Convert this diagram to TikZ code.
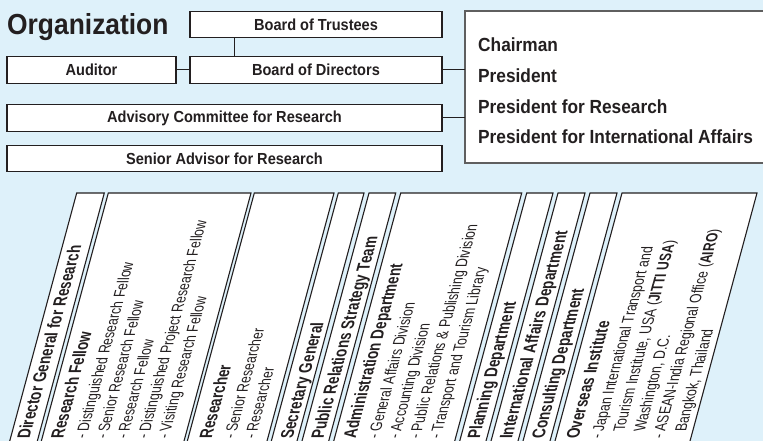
\documentclass[tikz,border=0pt]{standalone}
\usepackage{fontspec}
\setmainfont{Liberation Sans}
\newfontfamily\headfont{Liberation Sans}[FakeStretch=0.91]
\newfontfamily\stripfont{Liberation Sans}[FakeStretch=0.755]
\newfontfamily\subfont{Liberation Sans}[FakeStretch=0.77]
\usetikzlibrary{calc}
\definecolor{ink}{RGB}{35,31,32}
\definecolor{sky}{RGB}{222,241,250}
\definecolor{frame}{RGB}{95,95,95}
\newcommand\striphead[1]{{\stripfont\fontsize{18}{20.6}\selectfont\bfseries #1}}

\begin{document}
\begin{tikzpicture}[
      x=1pt, y=-1pt,
      every node/.style={inner sep=0pt, text=ink},
      box/.style={draw=ink, line width=1.2pt, fill=white, minimum height=26.5pt,
          font=\headfont\bfseries\fontsize{16}{19}\selectfont},
      link/.style={draw=ink, line width=1pt},
      stripbox/.style={draw=ink, line width=1.1pt, fill=white},
      strip/.style={anchor=north west, align=left, cm={0.27,1,-1,0,(0,0)},
          font=\subfont\fontsize{16}{20.6}\selectfont}
    ]

    \useasboundingbox (0,0) rectangle (763,441);
    \clip (-15,-15) rectangle (790,470);
    \fill[sky] (-15,-15) rectangle (790,470);

    % top part
    \node[anchor=base west, font=\headfont\bfseries\fontsize{29}{34}\selectfont] (title) at (7,34.5) {Organization};

    \node[box, minimum width=252pt] (trustees) at (316,24.5) {Board of Trustees};
    \node[box, minimum width=252pt] (directors) at (316,70) {Board of Directors};
    \node[box, minimum width=169pt] (auditor) at (91.5,70) {Auditor};
    \node[box, minimum width=435pt] (advisory) at (224.5,118) {Advisory Committee for Research};
    \node[box, minimum width=435pt] (senior) at (224.5,158.5) {Senior Advisor for Research};

    % the officers box runs off the right edge
    \node[fill=white, minimum width=420pt, minimum height=152pt, anchor=west] (exec) at (465,87) {};
    \draw[frame, line width=2pt] (exec.north east) -- (exec.north west) -- (exec.south west) -- (exec.south east);
    \node[anchor=west, align=left, font=\headfont\bfseries\fontsize{19}{30.7}\selectfont] (officers) at (478,91)
      {Chairman\\President\\President for Research\\President for International Affairs};

    \draw[link] ($(trustees.south west)+(45,0)$) -- ($(directors.north west)+(45,0)$);
    \draw[link] (auditor) -- (directors);
    \draw[link] (directors) -- (directors -| exec.west);
    \draw[link] (advisory) -- (advisory -| exec.west);

    % slanted strips
    \foreach \l/\r in {76.7/104.3, 108.3/251, 254.3/334, 338.3/364, 369/395.7,
        400.7/521.7, 526.7/553, 558/585, 590/617, 622/757}
      \filldraw[stripbox] (\l,193) -- (\r,193) -- (\r-72.1,460) -- (\l-72.1,460) -- cycle;

    \node[strip] (dgr) at (16.2,439) {\striphead{Director General for Research}};
    \node[strip] (fellow) at (49.8,439) {\striphead{Research Fellow}\\[2.5pt]
      - Distinguished Research Fellow\\
      - Senior Research Fellow\\
      - Research Fellow\\
      - Distinguished Project Research Fellow\\
      - Visiting Research Fellow};
    \node[strip] (researcher) at (198.3,439) {\striphead{Researcher}\\[2.5pt]
      - Senior Researcher\\
      - Researcher};
    \node[strip] (secgen) at (279.3,439) {\striphead{Secretary General}};
    \node[strip] (prteam) at (310,439) {\striphead{Public Relations Strategy Team}};
    \node[strip] (admin) at (342.2,439) {\striphead{Administration Department}\\[2.5pt]
      - General Affairs Division\\
      - Accounting Division\\
      - Public Relations \& Publishing Division\\
      - Transport and Tourism Library};
    \node[strip] (planning) at (466.2,439) {\striphead{Planning Department}};
    \node[strip] (intl) at (498.5,439) {\striphead{International Affairs Department}};
    \node[strip] (consult) at (530.5,439) {\striphead{Consulting Department}};
    \node[strip] (overseas) at (565,439) {\striphead{Overseas Institute}\\[2.5pt]
      - Japan International Transport and\\
      \phantom{- }Tourism Institute, USA ({\stripfont\bfseries JITTI USA})\\
      \phantom{- }Washington, D.C.\\
      - ASEAN-India Regional Office ({\stripfont\bfseries AIRO})\\
      \phantom{- }Bangkok, Thailand};

  \end{tikzpicture}
\end{document}
